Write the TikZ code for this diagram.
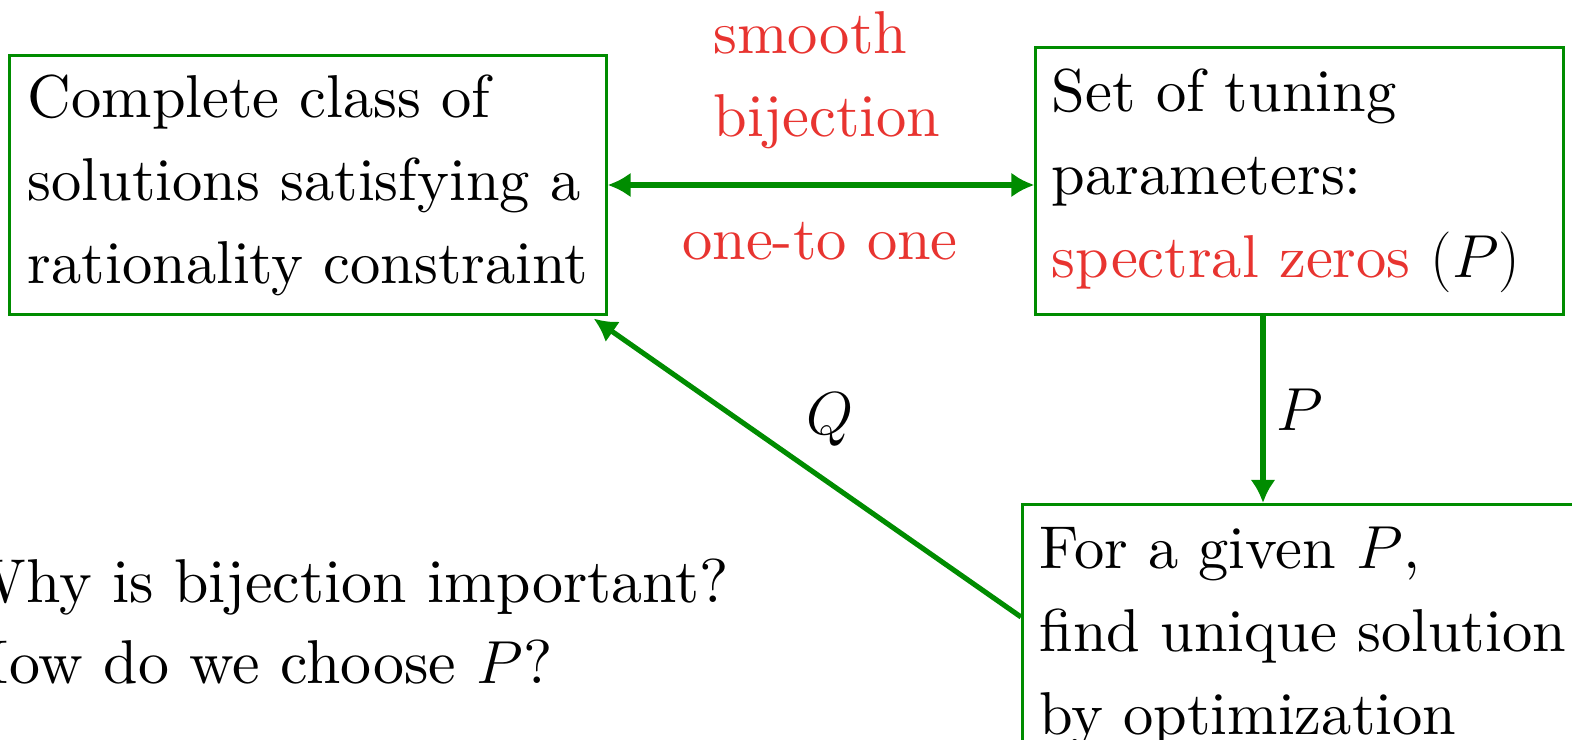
\documentclass[tikz,border=0pt]{standalone}
\usetikzlibrary{arrows.meta,positioning,calc}
\definecolor{boxgreen}{RGB}{0,140,0}
\definecolor{labelred}{RGB}{232,52,48}
\font\slidermfont="[lmroman10-regular.otf]:mapping=tex-text" at 17.2pt
\font\questionfont="[lmroman10-regular.otf]:mapping=tex-text" at 17.6pt
\def\slidefont{\fontsize{17.2}{23.6}\selectfont\slidermfont}
\def\askfont{\fontsize{17.6}{23.6}\selectfont\questionfont}
\begin{document}
\begin{tikzpicture}[x=0.01cm, y=-0.01cm,
    every node/.style={font=\slidefont, inner sep=0pt},
    box/.style={draw=boxgreen, line width=0.85pt, align=left},
    link/.style={draw=boxgreen, line width=1.45pt},
    >={Latex[length=0.23cm,width=0.25cm]}]
    \useasboundingbox (0,0) rectangle (1572,740);
    \clip (0,0) rectangle (1572,740);

    % the three boxes
    \node[box, text width=5.6cm, inner xsep=0.18cm, minimum height=2.58cm] (cls) at (308,185)
        {Complete class of\\solutions satisfying a\\rationality constraint};
    \node[box, text width=4.95cm, inner xsep=0.16cm, minimum height=2.66cm] (par) at (1299.5,181)
        {Set of tuning\\parameters:\\\textcolor{labelred}{spectral zeros} $(P)$};
    \node[box, text width=5.6cm, inner xsep=0.17cm, inner ysep=0.22cm, anchor=north west] (opt) at (1021,503)
        {For a given $P$,\\find unique solution\\by optimization};

    % connectors
    \draw[link, <->] (cls.east) -- (cls.east -| par.west);
    \coordinate (ptop) at ($(par.south)+(-36.5,0)$);
    \draw[link, ->] (ptop) -- (ptop |- opt.north);
    \coordinate (qstart) at ($(opt.north west)+(0,114)$);
    \coordinate (qend) at ($(cls.south east)+(-14,3)$);
    \draw[link, ->] (qstart) -- (qend);

    % labels
    \node[labelred, align=left, anchor=west] (bij) at (713,80) {smooth\\bijection};
    \node[labelred, anchor=base] (one) at (820,260) {one-to one};
    \node (lblP) at (1300,410) {$P$};
    \node (lblQ) at (830,420) {$Q$};

    % questions
    \node[font=\askfont, anchor=base west] (why) at (-38,603) {Why is bijection important?};
    \node[font=\askfont, anchor=base west] (how) at (-38,683) {How do we choose $P$?};
\end{tikzpicture}
\end{document}
